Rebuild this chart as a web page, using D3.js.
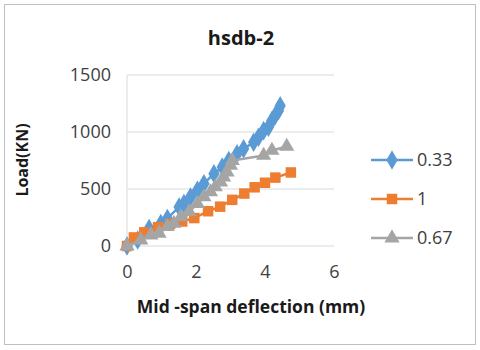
<!DOCTYPE html>
<html>
<head>
<meta charset="utf-8">
<script src="https://cdn.jsdelivr.net/npm/d3@7"></script>
<style>
  body { margin: 0; background: #fff; }
  text { font-family: "Open Sans", sans-serif; }
</style>
</head>
<body>
<svg id="chart"></svg>
<script>
// data
var names = ["0.33", "1", "0.67"]
var colors = ["#5b9bd5", "#ed7d31", "#a5a5a5"]
var shapes = [d3.symbolDiamond, d3.symbolSquare, d3.symbolTriangle]

var blueX = [0, 0.31, 0.64, 0.98, 1.17, 1.51, 1.65, 1.84, 2.04, 2.23, 2.52, 2.76, 2.95, 3.19, 3.38, 3.67, 3.81, 3.96, 4.1, 4.2, 4.29, 4.39, 4.44]
var blueY = [0, 52, 154, 198, 242, 343, 372, 430, 489, 547, 634, 692, 750, 809, 852, 910, 954, 1012, 1041, 1100, 1143, 1187, 1230]

var orangeX = [0, 0.2, 0.5, 0.9, 1.25, 1.6, 1.95, 2.35, 2.7, 3.05, 3.4, 3.7, 4.0, 4.3, 4.75]
var orangeY = [0, 75, 120, 165, 195, 215, 245, 305, 345, 405, 460, 515, 555, 600, 645]

var grayX = [0, 0.4, 0.69, 0.93, 1.17, 1.36, 1.56, 1.8, 2.04, 2.23, 2.42, 2.56, 2.71, 2.8, 2.9, 3.0, 3.05, 3.96, 4.2, 4.63]
var grayY = [0, 52, 96, 111, 169, 198, 256, 300, 372, 430, 474, 518, 561, 605, 648, 707, 750, 794, 838, 873]

var xTicks = [0, 2, 4, 6]
var yTicks = [0, 500, 1000, 1500]

var seriesX = [blueX, orangeX, grayX]
var seriesY = [blueY, orangeY, grayY]
var sizes = [110, 110, 100]

var width = 480
var height = 350

var svg = d3.select("#chart")
    .attr("width", width)
    .attr("height", height)

svg.append("rect")
    .attr("x", 4.5).attr("y", 4.5)
    .attr("width", 471).attr("height", 340)
    .attr("fill", "#fff")
    .attr("stroke", "#bfbfbf")

var x = d3.scaleLinear().domain([0, 6]).range([127, 334])
var y = d3.scaleLinear().domain([0, 1500]).range([246, 75])

// gridlines
svg.append("g")
    .selectAll("line")
    .data(yTicks)
    .enter()
    .append("line")
    .attr("x1", x(0)).attr("x2", x(6))
    .attr("y1", d => y(d)).attr("y2", d => y(d))
    .attr("stroke", "#d9d9d9")
    .attr("stroke-width", 1)

svg.append("line")
    .attr("x1", x(0)).attr("x2", x(0))
    .attr("y1", y(1500)).attr("y2", y(0))
    .attr("stroke", "#d9d9d9")

// axes (labels only)
var yAxis = svg.append("g")
    .attr("transform", "translate(" + x(0) + ",0)")
    .call(d3.axisLeft(y).tickValues(yTicks).tickFormat(d3.format("d")).tickSize(0).tickPadding(16))
yAxis.select(".domain").remove()
yAxis.selectAll("text")
    .attr("font-size", 18)
    .attr("font-family", "Open Sans")
    .attr("fill", "#404040")

var xAxis = svg.append("g")
    .attr("transform", "translate(0," + y(0) + ")")
    .call(d3.axisBottom(x).tickValues(xTicks).tickFormat(d3.format("d")).tickSize(0).tickPadding(19))
xAxis.select(".domain").remove()
xAxis.selectAll("text")
    .attr("font-size", 18)
    .attr("font-family", "Open Sans")
    .attr("fill", "#404040")

// series
var line = d3.line()
    .x(d => x(d[0]))
    .y(d => y(d[1]))

seriesX.forEach(function(xs, i){
  var pts = xs.map((v, j) => [v, seriesY[i][j]])
  var g = svg.append("g")
  g.append("path")
      .datum(pts)
      .attr("d", line)
      .attr("fill", "none")
      .attr("stroke", colors[i])
      .attr("stroke-width", 2.5)
  g.selectAll("path.m")
      .data(pts)
      .enter()
      .append("path")
      .attr("class", "m")
      .attr("d", d3.symbol().type(shapes[i]).size(sizes[i]))
      .attr("transform", d => "translate(" + x(d[0]) + "," + y(d[1]) + ")")
      .attr("fill", colors[i])
})

// titles
svg.append("text")
    .attr("x", 241).attr("y", 45)
    .attr("text-anchor", "middle")
    .attr("font-size", 20)
    .attr("font-weight", "bold")
    .attr("fill", "#1a1a1a")
    .text("hsdb-2")

svg.append("text")
    .attr("transform", "translate(28,160) rotate(-90)")
    .attr("text-anchor", "middle")
    .attr("font-size", 16)
    .attr("font-weight", "bold")
    .attr("fill", "#1a1a1a")
    .text("Load(KN)")

svg.append("text")
    .attr("x", 251).attr("y", 313)
    .attr("text-anchor", "middle")
    .attr("font-size", 17.5)
    .attr("font-weight", "bold")
    .attr("fill", "#1a1a1a")
    .text("Mid -span deflection (mm)")

// legend
var legendY = [160, 199, 238]
var legend = svg.append("g")
    .selectAll("g")
    .data(names)
    .enter()
    .append("g")
    .attr("transform", (d, i) => "translate(371," + legendY[i] + ")")

legend.append("line")
    .attr("x1", 0).attr("x2", 42)
    .attr("stroke", (d, i) => colors[i])
    .attr("stroke-width", 2.5)

legend.append("path")
    .attr("d", (d, i) => d3.symbol().type(shapes[i]).size(sizes[i])())
    .attr("transform", "translate(21,0)")
    .attr("fill", (d, i) => colors[i])

legend.append("text")
    .attr("x", 46).attr("y", 6)
    .attr("font-size", 18)
    .attr("fill", "#404040")
    .text(d => d)
</script>
</body>
</html>
